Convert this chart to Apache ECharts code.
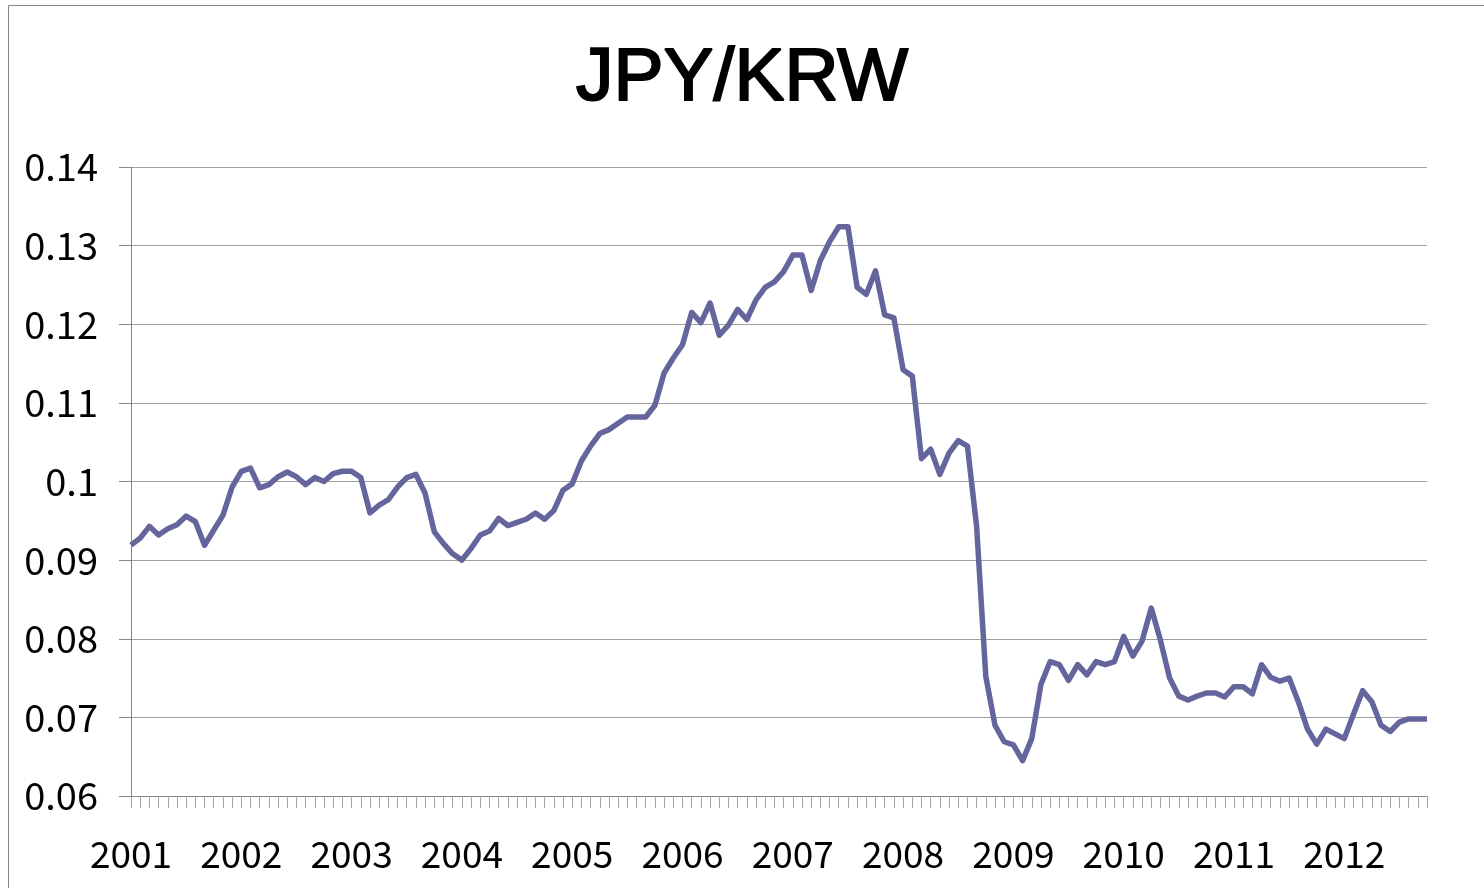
<!DOCTYPE html>
<html>
<head>
<meta charset="utf-8">
<script src="https://cdn.jsdelivr.net/npm/echarts@6/dist/echarts.min.js"></script>
<style>
html,body{margin:0;padding:0;background:#fff;}
#chart{width:1484px;height:888px;}
</style>
</head>
<body>
<div id="chart"></div>
<script>
const title = 'JPY/KRW';
const years = ['2001','2002','2003','2004','2005','2006','2007','2008','2009','2010','2011','2012'];
const months = ['01','02','03','04','05','06','07','08','09','10','11','12'];
const yTicks = [0.06, 0.07, 0.08, 0.09, 0.10, 0.11, 0.12, 0.13, 0.14];

const v2001 = [0.0919,0.0928,0.0943,0.0932,0.0940,0.0945,0.0956,0.0949,0.0919,0.0938,0.0957,0.0993];
const v2002 = [0.1013,0.1017,0.0992,0.0996,0.1006,0.1012,0.1006,0.0996,0.1005,0.1000,0.1010,0.1013];
const v2003 = [0.1013,0.1005,0.0960,0.0970,0.0977,0.0993,0.1005,0.1009,0.0985,0.0936,0.0921,0.0908];
const v2004 = [0.0900,0.0915,0.0932,0.0937,0.0953,0.0944,0.0948,0.0952,0.0960,0.0952,0.0963,0.0989];
const v2005 = [0.0997,0.1026,0.1045,0.1061,0.1066,0.1074,0.1082,0.1082,0.1082,0.1097,0.1138,0.1157];
const v2006 = [0.1174,0.1215,0.1202,0.1227,0.1186,0.1199,0.1219,0.1206,0.1231,0.1247,0.1254,0.1267];
const v2007 = [0.1288,0.1288,0.1243,0.1281,0.1305,0.1324,0.1324,0.1247,0.1238,0.1268,0.1212,0.1208];
const v2008 = [0.1142,0.1134,0.1029,0.1041,0.1009,0.1036,0.1052,0.1045,0.0943,0.0752,0.0690,0.0669];
const v2009 = [0.0665,0.0645,0.0673,0.0742,0.0771,0.0767,0.0747,0.0767,0.0754,0.0771,0.0767,0.0771];
const v2010 = [0.0803,0.0778,0.0797,0.0839,0.0798,0.0750,0.0727,0.0722,0.0727,0.0731,0.0731,0.0726];
const v2011 = [0.0739,0.0739,0.0730,0.0767,0.0751,0.0746,0.0750,0.0720,0.0685,0.0666,0.0685,0.0679];
const v2012 = [0.0673,0.0704,0.0734,0.0720,0.0690,0.0682,0.0694,0.0698,0.0698,0.0698];

const yearValues = [v2001,v2002,v2003,v2004,v2005,v2006,v2007,v2008,v2009,v2010,v2011,v2012];
const categories = [];
const values = [];
yearValues.forEach((arr, yi) => {
  arr.forEach((v, mi) => {
    categories.push(years[yi] + '-' + months[mi]);
    values.push(v);
  });
});

const FONT = '"Noto Sans CJK JP", "Noto Sans", sans-serif';
const chart = echarts.init(document.getElementById('chart'), null, {renderer: 'canvas'});
chart.setOption({
  backgroundColor: '#ffffff',
  animation: false,
  graphic: [{
    type: 'rect',
    shape: {x: 8.5, y: 5.5, width: 1490, height: 900},
    style: {fill: 'none', stroke: '#868686', lineWidth: 1},
    silent: true
  }],
  title: {
    text: title,
    left: 'center',
    top: 37,
    textStyle: {
      fontFamily: '"Liberation Sans", Arial, sans-serif', fontSize: 75, fontWeight: 'normal', color: '#000',
      textBorderColor: '#000', textBorderWidth: 2
    }
  },
  grid: {left: 131, right: 57, top: 167, bottom: 92, containLabel: false},
  xAxis: {
    type: 'category',
    data: categories,
    boundaryGap: false,
    axisLine: {lineStyle: {color: '#868686', width: 1}},
    axisTick: {show: true, interval: 0, length: 12, lineStyle: {color: '#a6a6a6'}},
    axisLabel: {
      interval: 11,
      margin: 39,
      fontFamily: FONT, fontSize: 37, color: '#000',
      formatter: (v) => v.slice(0, 4)
    },
    splitLine: {show: false}
  },
  yAxis: {
    type: 'value',
    min: yTicks[0],
    max: yTicks[yTicks.length - 1],
    interval: 0.01,
    axisLine: {show: true, lineStyle: {color: '#868686', width: 1}},
    axisTick: {show: true, length: 12, lineStyle: {color: '#868686'}},
    axisLabel: {
      margin: 33,
      fontFamily: FONT, fontSize: 38, color: '#000',
      formatter: (v) => String(parseFloat(v.toFixed(2)))
    },
    splitLine: {show: true, lineStyle: {color: '#a0a0a0', width: 1}}
  },
  series: [{
    type: 'line',
    data: values,
    showSymbol: false,
    symbol: 'none',
    lineStyle: {color: '#65659d', width: 5.5, join: 'round'},
    itemStyle: {color: '#65659d'}
  }]
});
</script>
</body>
</html>
